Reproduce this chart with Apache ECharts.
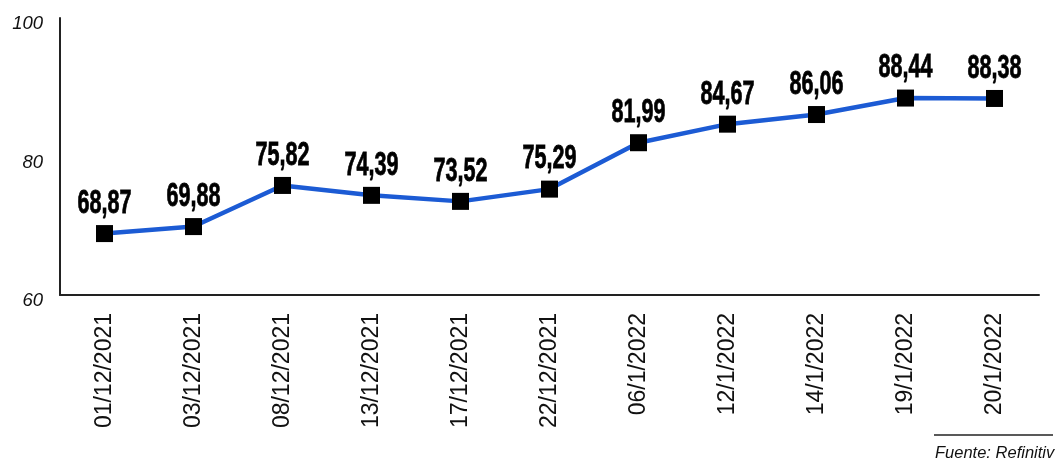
<!DOCTYPE html>
<html>
<head>
<meta charset="utf-8">
<script src="https://cdn.jsdelivr.net/npm/echarts@6/dist/echarts.min.js"></script>
<style>
  html, body { margin: 0; padding: 0; background: #fff; }
  #chart { width: 1055px; height: 458px; }
</style>
</head>
<body>
<div id="chart"></div>
<script>
const dates = ['01/12/2021', '03/12/2021', '08/12/2021', '13/12/2021', '17/12/2021',
  '22/12/2021', '06/1/2022', '12/1/2022', '14/1/2022', '19/1/2022', '20/1/2022'];
const values = [68.87, 69.88, 75.82, 74.39, 73.52, 75.29, 81.99, 84.67, 86.06, 88.44, 88.38];
const yTicks = [60, 80, 100];

const fmt = v => v.toFixed(2).replace('.', ',');

const myChart = echarts.init(document.getElementById('chart'));

const option = {
  backgroundColor: '#fff',
  grid: { left: 60, right: 16, top: 18, bottom: 163 },
  xAxis: {
    type: 'category',
    data: dates,
    boundaryGap: true,
    axisLine: { lineStyle: { color: '#222', width: 2 } },
    axisTick: { show: false },
    axisLabel: {
      rotate: 90,
      margin: 18,
      color: '#111',
      fontSize: 23,
      fontFamily: 'Liberation Sans, Arial, sans-serif',
    },
  },
  yAxis: {
    type: 'value',
    min: yTicks[0],
    max: yTicks[yTicks.length - 1],
    interval: 20,
    splitLine: { show: false },
    axisTick: { show: false },
    axisLine: { show: true, lineStyle: { color: '#222', width: 2 } },
    axisLabel: {
      margin: 17,
      color: '#111',
      fontSize: 18.5,
      fontStyle: 'italic',
      fontFamily: 'Liberation Sans, Arial, sans-serif',
      verticalAlign: 'top',
      lineHeight: 12,
    },
  },
  series: [
    {
      type: 'line',
      data: values,
      symbol: 'rect',
      symbolSize: 17,
      itemStyle: { color: '#000' },
      lineStyle: { color: '#1c5bd4', width: 4.5 },
      z: 2,
    },
    {
      // condensed value labels above the markers
      type: 'custom',
      data: values.map((v, i) => [i, v]),
      encode: { x: 0, y: 1 },
      z: 3,
      silent: true,
      renderItem: (params, api) => {
        const pt = api.coord([api.value(0), api.value(1)]);
        return {
          type: 'text',
          x: pt[0],
          y: pt[1] - 13,
          scaleX: 0.635,
          style: {
            text: fmt(api.value(1)),
            fill: '#000',
            stroke: '#000',
            lineWidth: 0.8,
            font: 'bold 34px "Liberation Sans", Arial, sans-serif',
            textAlign: 'center',
            textVerticalAlign: 'bottom',
          },
        };
      },
    },
  ],
  graphic: [
    {
      type: 'line',
      shape: { x1: 934, y1: 435, x2: 1053, y2: 435 },
      style: { stroke: '#222', lineWidth: 1.5 },
    },
    {
      type: 'text',
      x: 935,
      y: 453,
      style: {
        text: 'Fuente: Refinitiv',
        fill: '#111',
        font: 'italic 16.5px "Liberation Sans", Arial, sans-serif',
        textVerticalAlign: 'middle',
      },
    },
  ],
};

myChart.setOption(option);
window.addEventListener('resize', function () {
  myChart.resize();
});
</script>
</body>
</html>
